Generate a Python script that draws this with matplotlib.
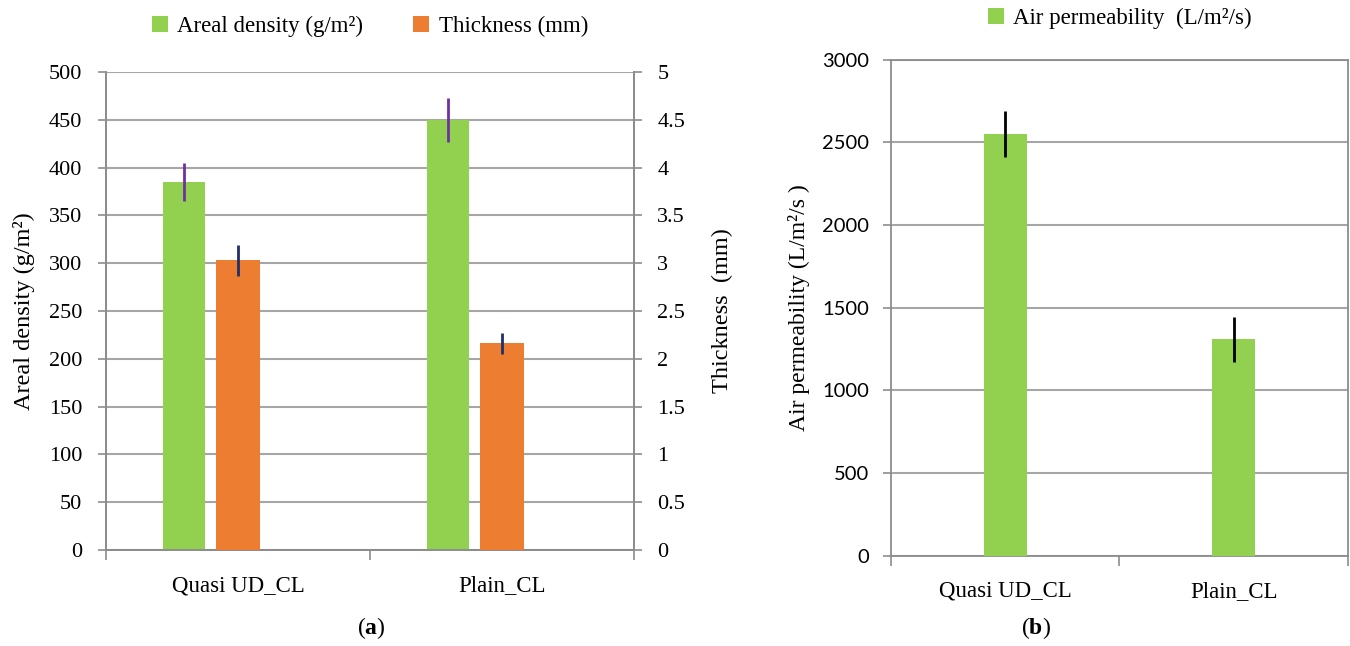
import matplotlib
matplotlib.use("Agg")
import matplotlib.pyplot as plt
import numpy as np

# data
categories = ["Quasi UD_CL", "Plain_CL"]
areal_density = [385, 450]
areal_density_err = [20, 23]
thickness = [3.03, 2.16]
thickness_err = [0.16, 0.11]
air_perm = [2550, 1310]
air_perm_err = [137, 137]

GREEN = "#92D050"
ORANGE = "#ED7D31"
GRID = "#a6a6a6"
SPINE = "#8c8c8c"
SERIF = "Liberation Serif"
SANS = "Lato"

plt.rcParams["font.family"] = SERIF
plt.rcParams["mathtext.fontset"] = "custom"
plt.rcParams["mathtext.rm"] = SERIF
plt.rcParams["mathtext.bf"] = SERIF + ":bold"

fig = plt.figure(figsize=(13.5, 6.46), dpi=100)
ax1 = fig.add_axes([0.0785, 0.1486, 0.391, 0.740])
ax2 = ax1.twinx()
ax3 = fig.add_axes([0.660, 0.1396, 0.3385, 0.768])

x = np.arange(len(categories))
w = 0.16

# ---- (a) areal density + thickness
ax1.set_zorder(1)
ax2.set_zorder(2)
ax2.patch.set_visible(False)
ax1.bar(x - 0.205, areal_density, width=w, color=GREEN, zorder=3,
        label="Areal density (g/m²)")
ax1.errorbar(x - 0.205, areal_density, yerr=areal_density_err, fmt="none",
             ecolor="#7030A0", elinewidth=2, capsize=0, zorder=4)
ax2.bar(x, thickness, width=w + 0.006, color=ORANGE, zorder=3,
        label="Thickness (mm)")
ax2.errorbar(x, thickness, yerr=thickness_err, fmt="none",
             ecolor="#1F2F6E", elinewidth=2, capsize=0, zorder=4)

ax1.set_xlim(-0.5, 1.5)
ax1.set_ylim(0, 500)
ax2.set_ylim(0, 5)
ax1.set_yticks(np.arange(0, 501, 50))
ax2.set_yticks(np.arange(0, 5.01, 0.5))
ax2.set_yticklabels(["0", "0.5", "1", "1.5", "2", "2.5", "3", "3.5", "4", "4.5", "5"])
ax1.yaxis.grid(True, color=GRID, linewidth=1.5, zorder=0)
ax1.set_axisbelow(True)

for a in (ax1, ax3):
    a.set_xticks(x)
    a.set_xticklabels(categories, fontsize=16.5, family=SERIF)
    a.tick_params(axis="x", length=0, pad=18)
    a.set_xticks([-0.5, 0.5, 1.5], minor=True)
    a.tick_params(axis="x", which="minor", length=7, width=1.2, color=SPINE,
                  direction="out")

ax1.tick_params(axis="y", length=6, width=1.2, color=SPINE, labelsize=16, pad=11)
ax2.tick_params(axis="y", length=6, width=1.2, color=SPINE, labelsize=16, pad=11)
for a in (ax1, ax2):
    a.spines["top"].set_visible(False)
    for s in ("left", "right", "bottom"):
        a.spines[s].set_color(SPINE)
        a.spines[s].set_linewidth(1.3)

ax1.set_ylabel("Areal density (g/m²)", fontsize=17.5)
ax1.yaxis.set_label_coords(-0.135, 0.5)
ax2.set_ylabel("Thickness  (mm)", fontsize=17.5, rotation=90)
ax2.yaxis.set_label_coords(1.148, 0.5)

h1, l1 = ax1.get_legend_handles_labels()
h2, l2 = ax2.get_legend_handles_labels()
ax2.legend(h1 + h2, l1 + l2, loc="lower center", bbox_to_anchor=(0.5, 1.03),
           ncol=2, frameon=False, fontsize=16.5, handlelength=0.7,
           handleheight=0.7, handletextpad=0.4, columnspacing=2.2)

# ---- (b) air permeability
ax3.bar(x, air_perm, width=0.19, color=GREEN, zorder=3,
        label="Air permeability  (L/m²/s)")
ax3.errorbar(x, air_perm, yerr=air_perm_err, fmt="none", ecolor="black",
             elinewidth=2, capsize=0, zorder=4)
ax3.set_xlim(-0.5, 1.5)
ax3.set_ylim(0, 3000)
ax3.set_yticks(np.arange(0, 3001, 500))
ax3.yaxis.grid(True, color=GRID, linewidth=1.5, zorder=0)
ax3.set_axisbelow(True)
ax3.tick_params(axis="y", length=6, width=1.2, color=SPINE, labelsize=14.5, pad=10)
for lab in ax3.get_yticklabels():
    lab.set_family(SANS)
for s in ax3.spines.values():
    s.set_color(SPINE)
    s.set_linewidth(1.3)
ax3.set_ylabel("Air permeability (L/m²/s )", fontsize=17)
ax3.yaxis.set_label_coords(-0.178, 0.5)
ax3.legend(loc="lower center", bbox_to_anchor=(0.5, 1.02), frameon=False,
           fontsize=16.5, handlelength=0.7, handleheight=0.7, handletextpad=0.4)

# sub-captions
fig.text(0.275, 0.008, r"($\mathbf{a}$)", ha="center", va="bottom", fontsize=17)
fig.text(0.767, 0.008, r"($\mathbf{b}$)", ha="center", va="bottom", fontsize=17)

fig.savefig("out.png", dpi=100)
